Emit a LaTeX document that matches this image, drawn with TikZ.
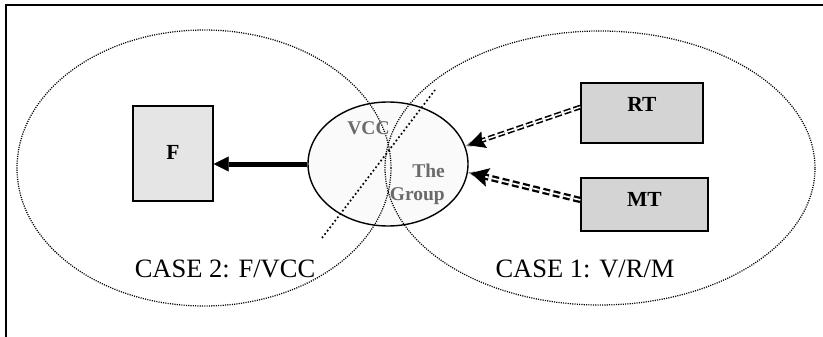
\documentclass[tikz,border=0pt]{standalone}
\usepackage{fontspec}
\setmainfont{Liberation Serif}
\usetikzlibrary{arrows.meta,calc,shapes.geometric}
\begin{document}
\begin{tikzpicture}[x=1pt,y=-1pt,
  frame/.style={line width=2pt},
  zone/.style={ellipse, draw, line width=1.25pt, dash pattern=on 1.1pt off 1.2pt, inner sep=0pt},
  cutline/.style={line width=1.7pt, dash pattern=on 1.7pt off 2.5pt},
  group/.style={ellipse, draw, line width=1.4pt, fill=black!2, inner sep=0pt,
    minimum width=160pt, minimum height=124pt},
  unit/.style={draw, line width=1.4pt, inner sep=0pt,
    font=\fontsize{21.5}{21.5}\selectfont\bfseries},
  grouplabel/.style={inner sep=0pt, text=black!58,
    font=\fontsize{19.5}{19.5}\selectfont\bfseries},
  caselabel/.style={inner sep=0pt, font=\fontsize{26.5}{26.5}\selectfont},
  heavy/.style={line width=5pt, -{Triangle[length=15pt,width=15pt,line width=0.5pt]}},
  dblthin/.style={draw, double=white, double distance=1.5pt, line width=1.6pt,
    dash pattern=on 7pt off 3pt},
  dblthick/.style={draw, double=white, double distance=1.7pt, line width=2.3pt,
    dash pattern=on 7pt off 3.5pt},
  headfill/.style={fill=black, draw=black, line width=1pt, line join=miter},
  tipfill/.style={fill=black!45}
]
\useasboundingbox (0,0) rectangle (823,337);

% outer frame (open at right and bottom)
\coordinate (frameBL) at (6,345);
\coordinate (frameTL) at (6,5);
\coordinate (frameTR) at (830,5);
\draw[frame] (frameBL) -- (frameTL) -- (frameTR);

% central group
\node[group] (vg) at (388,164) {};

% the two case regions
\node[zone, minimum width=374pt, minimum height=276pt] (caseTwo) at (204,168) {};
\node[zone, minimum width=430pt, minimum height=274pt] (caseOne) at (600,168) {};

% dividing line through the group
\coordinate (cutA) at (322,238);
\coordinate (cutB) at (435,90);
\draw[cutline] (cutA) -- (cutB);

% units
\node[unit, fill=black!10, minimum width=80pt, minimum height=95pt,
      text height=15pt, text depth=4pt] (F) at (173,153.5) {F};
\node[unit, fill=black!17, minimum width=122pt, minimum height=60pt,
      text height=14pt, text depth=16pt] (RT) at (642,113) {RT};
\node[unit, fill=black!17, minimum width=127pt, minimum height=53pt,
      text height=14pt, text depth=11pt] (MT) at (644.5,204.5) {MT};

% labels inside the group
\node[grouplabel, anchor=base] (vccLabel) at (368.5,135) {VCC};
\node[grouplabel, anchor=base east] (theLabel) at (445,177) {The};
\node[grouplabel, anchor=base east] (groupLabel) at (445,200) {Group};

% case labels
\node[caselabel, anchor=base] (caseTwoLabel) at (225,277) {CASE 2: F/VCC};
\node[caselabel, anchor=base] (caseOneLabel) at (585,277) {CASE 1: V/R/M};

% group -> F
\draw[heavy] (vg.west) -- (vg.west -| F.east);

% RT -> group: double dashed shaft, solid barbed head, small grey point
\coordinate (rtTail) at ([yshift=6pt]RT.west);
\coordinate (rtTip) at (vg.13);
\coordinate (rtHead) at ($(rtTip)!4pt!(rtTail)$);
\draw[dblthin] (rtTail) -- ($(rtHead)!12pt!(rtTail)$);
\fill[tipfill] (rtTip) -- ($(rtTip)!7pt!22:(rtTail)$) -- ($(rtTip)!7pt!-22:(rtTail)$) -- cycle;
\fill[headfill] (rtHead) -- ($(rtHead)!17pt!27:(rtTail)$)
  -- ($(rtHead)!13pt!(rtTail)$) -- ($(rtHead)!17pt!-27:(rtTail)$) -- cycle;

% MT -> group
\coordinate (mtTail) at ([yshift=4.5pt]MT.west);
\coordinate (mtTip) at (vg.-6);
\coordinate (mtHead) at ($(mtTip)!4pt!(mtTail)$);
\draw[dblthick] (mtTail) -- ($(mtHead)!12pt!(mtTail)$);
\fill[tipfill] (mtTip) -- ($(mtTip)!7pt!22:(mtTail)$) -- ($(mtTip)!7pt!-22:(mtTail)$) -- cycle;
\fill[headfill] (mtHead) -- ($(mtHead)!18pt!28:(mtTail)$)
  -- ($(mtHead)!13pt!(mtTail)$) -- ($(mtHead)!18pt!-28:(mtTail)$) -- cycle;
\end{tikzpicture}
\end{document}
